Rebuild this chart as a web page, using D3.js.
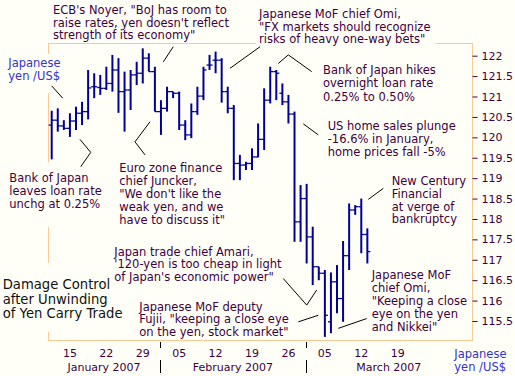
<!DOCTYPE html>
<html><head><meta charset="utf-8">
<script src="https://cdn.jsdelivr.net/npm/d3@7/dist/d3.min.js"></script>
<style>
html,body{margin:0;padding:0;background:#fffff7;}
svg{display:block;font-family:"DejaVu Sans",Verdana,sans-serif;}
</style>
</head><body>
<svg id="c" width="515" height="376"></svg>
<script>
// ---- data: daily yen per US$ bars (open, high, low, close) ----
const openV  = [120.30,120.42,120.28,120.22,120.40,120.59,120.63,121.24,121.22,121.20,
                121.32,121.65,121.12,121.16,121.53,121.57,121.94,121.61,120.63,120.71,
                121.12,121.08,120.30,120.06,120.63,121.01,121.77,121.89,121.89,121.12,
                120.71,119.36,119.32,119.36,119.52,119.95,120.91,121.61,121.08,120.87,
                120.57,117.93,118.50,117.56,116.83,116.67,115.48,116.46,116.05,117.10,
                118.22,118.30,117.62];
const highV  = [120.65,120.71,120.42,120.59,120.75,120.87,121.65,121.57,121.53,121.73,
                122.02,121.94,121.61,121.65,121.85,122.18,122.06,121.73,120.91,121.24,
                121.12,121.12,120.42,120.83,121.24,121.73,122.02,122.10,121.94,121.24,
                120.79,119.57,119.40,119.73,120.34,121.20,121.73,121.65,121.32,121.04,
                120.63,118.83,118.86,117.81,116.83,116.75,116.69,116.87,117.46,118.38,
                118.34,118.50,117.77];
const lowV   = [119.46,120.14,120.18,120.01,120.18,120.30,120.44,120.96,121.04,121.16,
                121.12,120.60,120.14,120.67,121.28,121.32,121.61,120.63,120.06,120.63,
                120.96,120.18,119.93,119.98,120.55,120.91,121.65,121.57,120.85,120.59,
                118.95,118.95,119.20,119.20,119.51,119.69,120.83,120.91,120.79,120.34,
                117.44,117.44,116.91,116.38,116.50,115.11,115.20,115.69,115.48,116.75,
                118.10,117.16,116.91];
const closeV = [120.42,120.28,120.22,120.40,120.59,120.63,121.21,121.24,121.20,121.32,
                121.65,121.12,121.16,121.53,121.57,121.94,121.61,120.63,120.71,121.12,
                121.08,120.30,120.06,120.63,121.01,121.65,121.77,121.89,121.12,120.71,
                119.36,119.32,119.36,119.52,119.95,120.91,121.61,121.57,120.87,120.57,
                117.93,118.50,117.56,116.83,116.67,115.64,116.46,116.05,117.10,118.22,
                118.30,117.62,117.20];
const yTicks = [115.5,116,116.5,117,117.5,118,118.5,119,119.5,120,120.5,121,121.5,122];
const dayLabels = ["15","22","29","05","12","19","26","05","12","19"];
const firstLabelBar = 3, barsPerWeek = 6;
const monthLabels = ["January 2007","February 2007","March 2007"];
const monthStartBar = [18, 42];

// ---- layout ----
const bg = "#fffff7", frameCol = "#fcc995", barCol = "#000099",
      txtCol = "#400040", blueCol = "#3333cc";
const svg = d3.select("#c");
svg.append("rect").attr("width",515).attr("height",376).attr("fill",bg);

const x = d3.scaleLinear().domain([-0.61, 69.24]).range([48, 472]);
const y = d3.scaleLinear().domain([115.5, 122]).range([321, 55.7]);
const L = 48.5, R = 472.5, T = 43.5, B = 340.5;

// frame
svg.append("rect").attr("x",L).attr("y",T).attr("width",R-L).attr("height",B-T)
  .attr("fill","none").attr("stroke",frameCol).attr("stroke-width",1);

// y axis (right)
const ya = svg.append("g").attr("transform",`translate(${R},0)`)
  .call(d3.axisRight(y).tickValues(yTicks).tickSize(5).tickSizeOuter(0).tickPadding(4)
        .tickFormat(d => String(d)));
ya.select(".domain").remove();
ya.selectAll(".tick line").attr("stroke",txtCol);
ya.selectAll(".tick text").attr("fill",txtCol).style("font-size","11px")
  .style("font-family",'"DejaVu Sans",Verdana,sans-serif');

// x labels
dayLabels.forEach((lab,k) => {
  svg.append("text").attr("x", x(firstLabelBar + k*barsPerWeek)).attr("y",356.5)
    .attr("text-anchor","middle").attr("fill",txtCol).style("font-size","11px").text(lab);
});
const bounds = [-0.61, ...monthStartBar.map(b => b - 0.15), 69.24];
monthLabels.forEach((m,k) => {
  svg.append("text").attr("x", x((bounds[k]+bounds[k+1])/2)).attr("y",370.5)
    .attr("text-anchor","middle").attr("fill",txtCol).style("font-size","11px").text(m);
});
monthStartBar.forEach(b => {
  const xx = Math.round(x(b-0.15))+0.5;
  svg.append("line").attr("x1",xx).attr("x2",xx).attr("y1",342).attr("y2",348)
    .attr("stroke","#000").attr("stroke-width",1);
  svg.append("line").attr("x1",xx).attr("x2",xx).attr("y1",360).attr("y2",373)
    .attr("stroke","#000").attr("stroke-width",1);
});

// annotations: background boxes layer first
const boxLayer = svg.append("g");

// bars
const bars = openV.map((o,i) => ({i, o, h: highV[i], l: lowV[i], c: closeV[i]}));
const g = svg.append("g");
g.selectAll("line.hl").data(bars).join("line").attr("class","hl")
  .attr("x1",d=>x(d.i)).attr("x2",d=>x(d.i)).attr("y1",d=>y(d.h)).attr("y2",d=>y(d.l))
  .attr("stroke",barCol).attr("stroke-width",2);
g.selectAll("line.op").data(bars).join("line").attr("class","op")
  .attr("x1",d=>x(d.i)-3).attr("x2",d=>x(d.i)).attr("y1",d=>y(d.o)).attr("y2",d=>y(d.o))
  .attr("stroke",barCol).attr("stroke-width",1.3);
g.selectAll("line.cl").data(bars).join("line").attr("class","cl")
  .attr("x1",d=>x(d.i)).attr("x2",d=>x(d.i)+3).attr("y1",d=>y(d.c)).attr("y2",d=>y(d.c))
  .attr("stroke",barCol).attr("stroke-width",1.3);

// connectors (in bar-index / yen units)
const connectors = [
  [[20.03,122.22],[18.39,121.85]],
  [[34.32,122.22],[29.37,121.69]],
  [[37.33,121.81],[38.98,122.02],[42.83,121.61]],
  [[41.45,120.33],[43.92,120.06]],
  [[54.63,118.75],[52.16,118.48]],
  [[51.89,115.56],[47.22,115.32]],
  [[40.63,115.48],[43.92,115.64]],
  [[38.15,116.54],[42.01,115.89],[43.66,116.26]],
  [[16.19,120.38],[13.72,119.89],[15.37,119.57]],
  [[4.66,119.95],[6.43,119.63],[4.78,119.28]],
  [[0.0,121.26],[1.81,120.96]]
];
const line = d3.line().x(p=>x(p[0])).y(p=>y(p[1]));
connectors.forEach(c => svg.append("path").attr("d",line(c)).attr("fill","none")
  .attr("stroke","#000").attr("stroke-width",1));

// annotations
const notes = [
  {t:["ECB's Noyer, \"BoJ has room to","raise rates, yen doesn't reflect","strength of its economy\""], x:53, y:14, lh:12.5},
  {t:["Japanese MoF chief Omi,","\"FX markets should recognize","risks of heavy one-way bets\""], x:259, y:18, lh:12.5, pad:[0,5,0,2]},
  {t:["Bank of Japan hikes","overnight loan rate","0.25% to 0.50%"], x:323, y:74, lh:13.3},
  {t:["US home sales plunge","-16.6% in January,","home prices fall -5%"], x:327.7, y:130, lh:13.2},
  {t:["New Century","Financial","at verge of","bankruptcy"], x:391.7, y:185, lh:12.8},
  {t:["Japanese MoF","chief Omi,","\"Keeping a close","eye on the yen","and Nikkei\""], x:371.7, y:279, lh:13.1},
  {t:["Japanese MoF deputy","Fujii, \"keeping a close eye","on the yen, stock market\""], x:139.3, y:310.7, lh:12.5},
  {t:["Japan trade chief Amari,","'120-yen is too cheap in light","of Japan's economic power\""], x:114.3, y:255.7, lh:12.5},
  {t:["Euro zone finance","chief Juncker,","\"We don't like the","weak yen, and we","have to discuss it\""], x:119.3, y:172.3, lh:12.9},
  {t:["Bank of Japan","leaves loan rate","unchg at 0.25%"], x:9.3, y:182.3, lh:12.9, pad:[9,2,16,2]},
  {t:["Damage Control","after Unwinding","of Yen Carry Trade"], x:2.7, y:289, lh:14.5, size:13.2, col:"#111", pad:[14,0,11,2]},
  {t:["Japanese","yen /US$"], x:8.3, y:67, lh:13.3, col:blueCol, pad:[2,2,10,2]},
  {t:["Japanese","yen /US$"], x:454.3, y:357.5, lh:13.5, col:blueCol}
];
notes.forEach(n => {
  const txt = svg.append("text").attr("fill", n.col || txtCol)
    .style("font-size", (n.size || 11.5) + "px");
  n.t.forEach((s,k) => txt.append("tspan").attr("x",n.x).attr("y",n.y + k*n.lh).text(s));
  if (n.pad) {
    const bb = txt.node().getBBox();
    boxLayer.append("rect").attr("x",bb.x - n.pad[3]).attr("y",bb.y - n.pad[0])
      .attr("width",bb.width + n.pad[1] + n.pad[3]).attr("height",bb.height + n.pad[0] + n.pad[2])
      .attr("fill",bg);
  }
});
</script>
</body></html>
